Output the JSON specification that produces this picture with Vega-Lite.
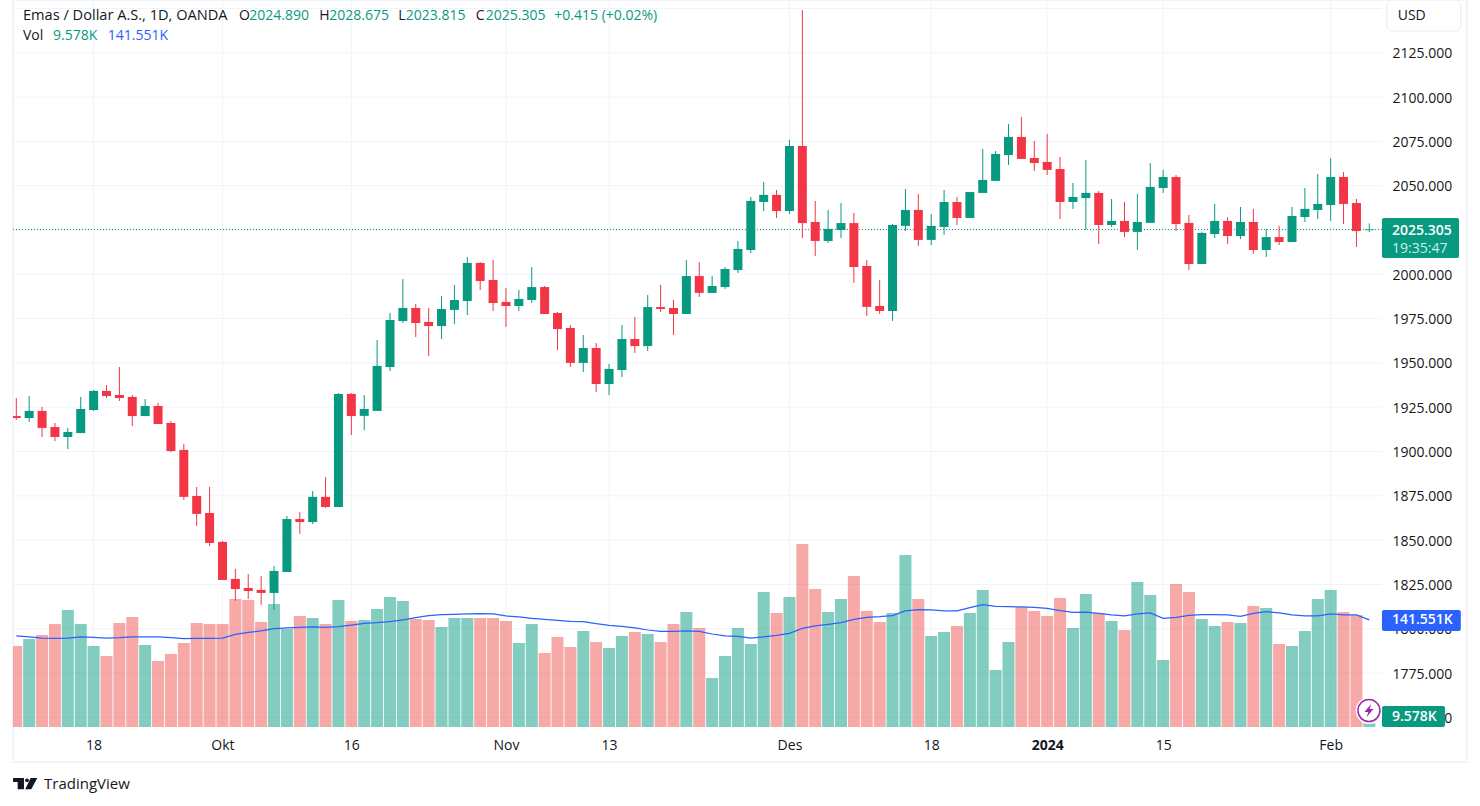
{"$schema":"https://vega.github.io/schema/vega-lite/v6.json","width":1454,"height":762,"autosize":"none","padding":{"left":13,"top":0,"right":13,"bottom":44},"background":"#ffffff","view":{"stroke":"#f0f3fa","strokeWidth":2},"config":{"font":"Open Sans"},
"datasets":{
"hgrid":[{"price":2150},{"price":2125},{"price":2100},{"price":2075},{"price":2050},{"price":2025},{"price":2000},{"price":1975},{"price":1950},{"price":1925},{"price":1900},{"price":1875},{"price":1850},{"price":1825},{"price":1800},{"price":1775},{"price":1750}],
"vgrid":[{"i":6},{"i":16},{"i":26},{"i":38},{"i":46},{"i":60},{"i":71},{"i":80},{"i":89},{"i":102}],
"last":[{"price":2025.305}],
"bars":[
{"i":0,"d":"2023-09-08","o":1920.0,"h":1930.2,"l":1917.8,"c":1918.9,"v":107.2,"ma":120.4,"dir":"down"},
{"i":1,"d":"2023-09-11","o":1918.9,"h":1931.3,"l":1916.7,"c":1922.9,"v":116.4,"ma":119.1,"dir":"up"},
{"i":2,"d":"2023-09-12","o":1922.9,"h":1925.1,"l":1908.2,"c":1913.3,"v":121.7,"ma":117.7,"dir":"down"},
{"i":3,"d":"2023-09-13","o":1913.8,"h":1916.1,"l":1905.9,"c":1908.2,"v":136.3,"ma":117.3,"dir":"down"},
{"i":4,"d":"2023-09-14","o":1908.2,"h":1913.3,"l":1901.4,"c":1911.0,"v":154.8,"ma":117.7,"dir":"up"},
{"i":5,"d":"2023-09-15","o":1910.4,"h":1930.8,"l":1910.4,"c":1924.0,"v":136.3,"ma":119.1,"dir":"up"},
{"i":6,"d":"2023-09-18","o":1923.4,"h":1934.7,"l":1922.9,"c":1934.2,"v":107.2,"ma":118.6,"dir":"up"},
{"i":7,"d":"2023-09-19","o":1934.2,"h":1937.5,"l":1930.2,"c":1931.3,"v":93.9,"ma":117.7,"dir":"down"},
{"i":8,"d":"2023-09-20","o":1931.9,"h":1947.7,"l":1928.5,"c":1930.2,"v":137.6,"ma":118.2,"dir":"down"},
{"i":9,"d":"2023-09-21","o":1930.8,"h":1931.9,"l":1914.4,"c":1920.0,"v":145.5,"ma":119.1,"dir":"down"},
{"i":10,"d":"2023-09-22","o":1920.0,"h":1929.6,"l":1920.0,"c":1925.7,"v":108.5,"ma":119.1,"dir":"up"},
{"i":11,"d":"2023-09-25","o":1925.7,"h":1927.4,"l":1915.5,"c":1915.5,"v":87.3,"ma":119.1,"dir":"down"},
{"i":12,"d":"2023-09-26","o":1916.1,"h":1917.2,"l":1899.7,"c":1900.3,"v":96.6,"ma":118.2,"dir":"down"},
{"i":13,"d":"2023-09-27","o":1900.9,"h":1904.3,"l":1872.7,"c":1874.4,"v":111.1,"ma":116.9,"dir":"down"},
{"i":14,"d":"2023-09-28","o":1874.9,"h":1880.0,"l":1858.0,"c":1864.8,"v":137.6,"ma":117.3,"dir":"down"},
{"i":15,"d":"2023-09-29","o":1865.3,"h":1880.0,"l":1846.7,"c":1848.4,"v":136.3,"ma":117.3,"dir":"down"},
{"i":16,"d":"2023-10-02","o":1849.0,"h":1849.5,"l":1827.5,"c":1827.5,"v":136.3,"ma":117.7,"dir":"down"},
{"i":17,"d":"2023-10-03","o":1828.1,"h":1833.7,"l":1815.7,"c":1822.4,"v":169.3,"ma":122.6,"dir":"down"},
{"i":18,"d":"2023-10-04","o":1823.0,"h":1830.9,"l":1816.8,"c":1821.3,"v":168.0,"ma":125.2,"dir":"down"},
{"i":19,"d":"2023-10-05","o":1821.9,"h":1829.8,"l":1813.4,"c":1820.2,"v":138.9,"ma":127.0,"dir":"down"},
{"i":20,"d":"2023-10-06","o":1820.2,"h":1835.4,"l":1810.6,"c":1832.6,"v":162.7,"ma":130.1,"dir":"up"},
{"i":21,"d":"2023-10-09","o":1832.0,"h":1863.6,"l":1832.0,"c":1861.9,"v":129.7,"ma":131.0,"dir":"up"},
{"i":22,"d":"2023-10-10","o":1861.9,"h":1865.9,"l":1853.5,"c":1860.2,"v":146.9,"ma":131.9,"dir":"down"},
{"i":23,"d":"2023-10-11","o":1860.2,"h":1877.7,"l":1859.1,"c":1874.4,"v":144.2,"ma":132.3,"dir":"up"},
{"i":24,"d":"2023-10-12","o":1874.4,"h":1885.6,"l":1868.2,"c":1868.7,"v":136.3,"ma":131.9,"dir":"down"},
{"i":25,"d":"2023-10-13","o":1868.7,"h":1933.0,"l":1868.7,"c":1932.5,"v":168.0,"ma":132.7,"dir":"up"},
{"i":26,"d":"2023-10-16","o":1932.5,"h":1933.0,"l":1909.3,"c":1920.0,"v":140.2,"ma":134.9,"dir":"down"},
{"i":27,"d":"2023-10-17","o":1920.1,"h":1931.9,"l":1912.0,"c":1924.0,"v":141.6,"ma":137.2,"dir":"up"},
{"i":28,"d":"2023-10-18","o":1922.9,"h":1962.9,"l":1922.9,"c":1948.3,"v":156.1,"ma":138.0,"dir":"up"},
{"i":29,"d":"2023-10-19","o":1947.7,"h":1978.2,"l":1945.4,"c":1974.2,"v":172.0,"ma":139.4,"dir":"up"},
{"i":30,"d":"2023-10-20","o":1973.6,"h":1997.3,"l":1972.5,"c":1981.0,"v":166.7,"ma":141.6,"dir":"up"},
{"i":31,"d":"2023-10-23","o":1981.0,"h":1983.2,"l":1964.6,"c":1972.5,"v":142.9,"ma":144.6,"dir":"down"},
{"i":32,"d":"2023-10-24","o":1973.1,"h":1981.0,"l":1953.9,"c":1970.8,"v":141.6,"ma":147.3,"dir":"down"},
{"i":33,"d":"2023-10-25","o":1970.8,"h":1987.8,"l":1963.5,"c":1980.4,"v":132.3,"ma":148.6,"dir":"up"},
{"i":34,"d":"2023-10-26","o":1979.9,"h":1994.0,"l":1972.0,"c":1985.5,"v":144.2,"ma":149.1,"dir":"up"},
{"i":35,"d":"2023-10-27","o":1984.9,"h":2009.8,"l":1977.0,"c":2006.4,"v":144.2,"ma":149.5,"dir":"up"},
{"i":36,"d":"2023-10-30","o":2006.4,"h":2006.9,"l":1991.1,"c":1996.2,"v":144.2,"ma":149.9,"dir":"down"},
{"i":37,"d":"2023-10-31","o":1996.8,"h":2008.1,"l":1979.3,"c":1983.8,"v":144.2,"ma":149.5,"dir":"down"},
{"i":38,"d":"2023-11-01","o":1984.4,"h":1992.3,"l":1970.3,"c":1982.1,"v":140.2,"ma":146.9,"dir":"down"},
{"i":39,"d":"2023-11-02","o":1982.1,"h":1991.1,"l":1979.3,"c":1986.1,"v":111.1,"ma":145.5,"dir":"up"},
{"i":40,"d":"2023-11-03","o":1985.5,"h":2004.1,"l":1983.8,"c":1992.8,"v":136.3,"ma":143.8,"dir":"up"},
{"i":41,"d":"2023-11-06","o":1992.8,"h":1993.4,"l":1977.6,"c":1977.6,"v":97.9,"ma":142.4,"dir":"down"},
{"i":42,"d":"2023-11-07","o":1978.2,"h":1978.7,"l":1957.3,"c":1969.1,"v":119.1,"ma":141.1,"dir":"down"},
{"i":43,"d":"2023-11-08","o":1969.7,"h":1971.4,"l":1947.7,"c":1950.0,"v":105.8,"ma":139.8,"dir":"down"},
{"i":44,"d":"2023-11-09","o":1950.0,"h":1965.7,"l":1944.9,"c":1958.4,"v":127.0,"ma":139.4,"dir":"up"},
{"i":45,"d":"2023-11-10","o":1958.4,"h":1961.2,"l":1933.6,"c":1938.1,"v":112.5,"ma":136.7,"dir":"down"},
{"i":46,"d":"2023-11-13","o":1938.1,"h":1949.4,"l":1931.9,"c":1946.6,"v":104.5,"ma":134.5,"dir":"up"},
{"i":47,"d":"2023-11-14","o":1946.0,"h":1971.4,"l":1942.0,"c":1963.5,"v":120.4,"ma":133.2,"dir":"up"},
{"i":48,"d":"2023-11-15","o":1963.5,"h":1975.9,"l":1955.6,"c":1959.5,"v":125.7,"ma":131.0,"dir":"down"},
{"i":49,"d":"2023-11-16","o":1959.5,"h":1988.3,"l":1956.7,"c":1981.5,"v":123.0,"ma":128.3,"dir":"up"},
{"i":50,"d":"2023-11-17","o":1981.5,"h":1994.0,"l":1978.7,"c":1980.4,"v":112.5,"ma":126.6,"dir":"down"},
{"i":51,"d":"2023-11-20","o":1981.0,"h":1985.5,"l":1965.7,"c":1977.6,"v":136.3,"ma":126.6,"dir":"down"},
{"i":52,"d":"2023-11-21","o":1977.6,"h":2008.1,"l":1977.6,"c":1999.0,"v":152.1,"ma":127.0,"dir":"up"},
{"i":53,"d":"2023-11-22","o":1999.0,"h":2006.9,"l":1987.2,"c":1989.5,"v":131.0,"ma":126.6,"dir":"down"},
{"i":54,"d":"2023-11-23","o":1989.5,"h":1999.0,"l":1989.5,"c":1993.4,"v":64.8,"ma":123.0,"dir":"up"},
{"i":55,"d":"2023-11-24","o":1992.8,"h":2004.1,"l":1991.7,"c":2003.0,"v":93.9,"ma":120.4,"dir":"up"},
{"i":56,"d":"2023-11-27","o":2002.4,"h":2018.8,"l":2000.7,"c":2014.3,"v":131.0,"ma":120.0,"dir":"up"},
{"i":57,"d":"2023-11-28","o":2013.7,"h":2043.6,"l":2012.0,"c":2041.4,"v":109.8,"ma":117.7,"dir":"up"},
{"i":58,"d":"2023-11-29","o":2040.8,"h":2052.1,"l":2035.7,"c":2044.8,"v":178.6,"ma":119.1,"dir":"up"},
{"i":59,"d":"2023-11-30","o":2044.8,"h":2047.6,"l":2031.8,"c":2035.7,"v":150.8,"ma":121.3,"dir":"down"},
{"i":60,"d":"2023-12-01","o":2035.7,"h":2075.8,"l":2034.0,"c":2072.4,"v":172.0,"ma":123.9,"dir":"up"},
{"i":61,"d":"2023-12-04","o":2072.4,"h":2149.1,"l":2020.5,"c":2028.9,"v":242.1,"ma":130.5,"dir":"down"},
{"i":62,"d":"2023-12-05","o":2029.5,"h":2041.4,"l":2010.3,"c":2018.8,"v":182.6,"ma":133.6,"dir":"down"},
{"i":63,"d":"2023-12-06","o":2018.8,"h":2036.3,"l":2017.7,"c":2025.6,"v":152.1,"ma":135.8,"dir":"up"},
{"i":64,"d":"2023-12-07","o":2025.0,"h":2040.2,"l":2020.5,"c":2028.9,"v":169.3,"ma":138.0,"dir":"up"},
{"i":65,"d":"2023-12-08","o":2028.9,"h":2034.6,"l":1995.1,"c":2004.1,"v":199.8,"ma":142.4,"dir":"down"},
{"i":66,"d":"2023-12-11","o":2004.7,"h":2008.1,"l":1976.5,"c":1981.6,"v":153.5,"ma":145.1,"dir":"down"},
{"i":67,"d":"2023-12-12","o":1982.1,"h":1996.8,"l":1977.6,"c":1979.3,"v":138.9,"ma":146.0,"dir":"down"},
{"i":68,"d":"2023-12-13","o":1979.3,"h":2028.4,"l":1973.7,"c":2027.8,"v":150.8,"ma":147.3,"dir":"up"},
{"i":69,"d":"2023-12-14","o":2027.3,"h":2048.1,"l":2024.4,"c":2036.3,"v":227.6,"ma":153.5,"dir":"up"},
{"i":70,"d":"2023-12-15","o":2036.3,"h":2045.3,"l":2016.0,"c":2019.4,"v":169.3,"ma":155.2,"dir":"down"},
{"i":71,"d":"2023-12-18","o":2019.4,"h":2034.0,"l":2016.5,"c":2027.3,"v":120.4,"ma":154.8,"dir":"up"},
{"i":72,"d":"2023-12-19","o":2026.7,"h":2047.6,"l":2022.2,"c":2040.8,"v":125.7,"ma":153.5,"dir":"up"},
{"i":73,"d":"2023-12-20","o":2040.8,"h":2043.6,"l":2027.8,"c":2031.8,"v":133.6,"ma":153.5,"dir":"down"},
{"i":74,"d":"2023-12-21","o":2031.8,"h":2046.4,"l":2031.8,"c":2046.4,"v":150.8,"ma":157.9,"dir":"up"},
{"i":75,"d":"2023-12-22","o":2045.9,"h":2070.7,"l":2045.9,"c":2053.2,"v":181.3,"ma":161.8,"dir":"up"},
{"i":76,"d":"2023-12-26","o":2052.7,"h":2069.6,"l":2052.7,"c":2067.9,"v":75.4,"ma":159.6,"dir":"up"},
{"i":77,"d":"2023-12-27","o":2067.3,"h":2084.8,"l":2061.7,"c":2077.5,"v":112.5,"ma":159.2,"dir":"up"},
{"i":78,"d":"2023-12-28","o":2077.5,"h":2088.8,"l":2065.1,"c":2065.1,"v":158.8,"ma":158.8,"dir":"down"},
{"i":79,"d":"2023-12-29","o":2065.6,"h":2075.2,"l":2058.3,"c":2062.8,"v":153.5,"ma":158.3,"dir":"down"},
{"i":80,"d":"2024-01-02","o":2063.4,"h":2079.2,"l":2056.0,"c":2058.9,"v":146.9,"ma":157.0,"dir":"down"},
{"i":81,"d":"2024-01-03","o":2059.4,"h":2066.2,"l":2031.2,"c":2040.8,"v":170.7,"ma":153.9,"dir":"down"},
{"i":82,"d":"2024-01-04","o":2040.8,"h":2051.5,"l":2036.9,"c":2043.6,"v":131.0,"ma":151.7,"dir":"up"},
{"i":83,"d":"2024-01-05","o":2043.0,"h":2064.5,"l":2025.0,"c":2045.9,"v":176.0,"ma":152.1,"dir":"up"},
{"i":84,"d":"2024-01-08","o":2045.9,"h":2047.0,"l":2017.1,"c":2027.8,"v":150.8,"ma":150.4,"dir":"down"},
{"i":85,"d":"2024-01-09","o":2027.8,"h":2042.5,"l":2026.7,"c":2030.1,"v":140.2,"ma":148.2,"dir":"up"},
{"i":86,"d":"2024-01-10","o":2030.1,"h":2040.8,"l":2021.0,"c":2023.9,"v":128.3,"ma":146.9,"dir":"down"},
{"i":87,"d":"2024-01-11","o":2023.9,"h":2045.3,"l":2013.7,"c":2029.5,"v":191.8,"ma":149.5,"dir":"up"},
{"i":88,"d":"2024-01-12","o":2029.0,"h":2062.8,"l":2029.0,"c":2049.3,"v":174.6,"ma":150.8,"dir":"up"},
{"i":89,"d":"2024-01-15","o":2048.7,"h":2058.9,"l":2045.9,"c":2054.9,"v":88.6,"ma":143.8,"dir":"up"},
{"i":90,"d":"2024-01-16","o":2054.9,"h":2056.0,"l":2024.4,"c":2028.4,"v":189.2,"ma":145.1,"dir":"down"},
{"i":91,"d":"2024-01-17","o":2029.0,"h":2033.5,"l":2002.4,"c":2005.8,"v":178.6,"ma":147.7,"dir":"down"},
{"i":92,"d":"2024-01-18","o":2005.8,"h":2023.9,"l":2005.8,"c":2023.3,"v":142.9,"ma":148.6,"dir":"up"},
{"i":93,"d":"2024-01-19","o":2022.7,"h":2039.7,"l":2020.5,"c":2030.1,"v":133.6,"ma":148.6,"dir":"up"},
{"i":94,"d":"2024-01-22","o":2030.1,"h":2032.3,"l":2017.1,"c":2021.6,"v":138.9,"ma":148.2,"dir":"down"},
{"i":95,"d":"2024-01-23","o":2021.6,"h":2038.0,"l":2019.9,"c":2029.5,"v":137.6,"ma":146.4,"dir":"up"},
{"i":96,"d":"2024-01-24","o":2029.5,"h":2036.9,"l":2011.5,"c":2013.7,"v":160.1,"ma":150.4,"dir":"down"},
{"i":97,"d":"2024-01-25","o":2013.7,"h":2025.6,"l":2009.8,"c":2021.0,"v":157.4,"ma":152.6,"dir":"up"},
{"i":98,"d":"2024-01-26","o":2021.0,"h":2027.3,"l":2016.5,"c":2018.2,"v":109.8,"ma":150.8,"dir":"down"},
{"i":99,"d":"2024-01-29","o":2018.2,"h":2038.0,"l":2018.2,"c":2032.9,"v":107.2,"ma":148.2,"dir":"up"},
{"i":100,"d":"2024-01-30","o":2032.3,"h":2048.7,"l":2029.5,"c":2036.9,"v":127.0,"ma":146.9,"dir":"up"},
{"i":101,"d":"2024-01-31","o":2036.3,"h":2056.6,"l":2031.2,"c":2039.7,"v":169.3,"ma":146.9,"dir":"up"},
{"i":102,"d":"2024-02-01","o":2039.1,"h":2065.6,"l":2030.1,"c":2054.9,"v":181.3,"ma":149.5,"dir":"up"},
{"i":103,"d":"2024-02-02","o":2054.9,"h":2057.7,"l":2028.4,"c":2039.7,"v":152.1,"ma":148.2,"dir":"down"},
{"i":104,"d":"2024-02-05","o":2040.2,"h":2042.5,"l":2015.4,"c":2024.4,"v":148.2,"ma":148.2,"dir":"down"},
{"i":105,"d":"2024-02-06","o":2024.89,"h":2028.675,"l":2023.815,"c":2025.305,"v":4.9,"ma":141.6,"dir":"up"}
],
"headline":[{"label":"Emas / Dollar A.S., 1D, OANDA","i":0.52,"price":2145.9}],
"notes":[
{"label":"O","i":17.28,"price":2145.9,"kind":"ink"},
{"label":"2024.890","i":18.08,"price":2145.9,"kind":"up"},
{"label":"H","i":23.51,"price":2145.9,"kind":"ink"},
{"label":"2028.675","i":24.29,"price":2145.9,"kind":"up"},
{"label":"L","i":29.64,"price":2145.9,"kind":"ink"},
{"label":"2023.815","i":30.22,"price":2145.9,"kind":"up"},
{"label":"C","i":35.65,"price":2145.9,"kind":"ink"},
{"label":"2025.305","i":36.43,"price":2145.9,"kind":"up"},
{"label":"+0.415 (+0.02%)","i":41.75,"price":2145.9,"kind":"up"},
{"label":"Vol","i":0.52,"price":2134.6,"kind":"ink"},
{"label":"9.578K","i":2.85,"price":2134.6,"kind":"up"},
{"label":"141.551K","i":7.1,"price":2134.6,"kind":"ma"},
{"label":"USD","i":107.2,"price":2145.9,"kind":"ink"}
],
"brand":[{"label":"TradingView","i":2.15,"price":1712.4}],
"logo":[{"i":0.69,"price":1712.6}],
"bolt":[{"i":104.97,"price":1753.8}],
"usd":[{"x0":106.37,"x1":112.1,"p0":2154.77,"p1":2137.3}],
"tags":[
{"x0":105.98,"x1":111.96,"p0":2031.8,"p1":2009.2,"kind":"up"},
{"x0":105.98,"x1":112.1,"p0":1810.6,"p1":1798.7,"kind":"ma"},
{"x0":105.98,"x1":110.87,"p0":1756.4,"p1":1744.5,"kind":"up"}
],
"tagtext":[
{"label":"2025.305","i":106.76,"price":2024.6},
{"label":"141.551K","i":106.76,"price":1804.7},
{"label":"9.578K","i":106.76,"price":1750.0}
],
"clock":[{"label":"19:35:47","i":106.76,"price":2014.4}]
},
"layer":[
{"layer":[
{"data":{"name":"hgrid"},"mark":{"type":"rule","stroke":"#f0f3fa","strokeWidth":1},"encoding":{
"y":{"field":"price","type":"quantitative","scale":{"domain":[1724.8,2154.77],"nice":false,"zero":false},"axis":{"orient":"right","offset":-85,"values":[1750,1775,1800,1825,1850,1875,1900,1925,1950,1975,2000,2050,2075,2100,2125],"format":".3f","title":null,"grid":false,"ticks":false,"domain":false,"labelPadding":10,"labelOffset":1,"labelFontSize":14,"labelColor":"#131722","labelFont":"Open Sans","labelOverlap":false,"labelBound":false,"labelFlush":false,"labelAlign":"left","labelBaseline":"middle"}},
"x":{"datum":-0.256,"type":"quantitative","scale":{"domain":[-0.256,112.58],"nice":false,"zero":false},"axis":{"orient":"bottom","offset":-35,"values":[6,16,26,38,46,60,71,80,89,102],"labelExpr":"({'6':'18','16':'Okt','26':'16','38':'Nov','46':'13','60':'Des','71':'18','80':'2024','89':'15','102':'Feb'})[datum.value]","title":null,"grid":false,"ticks":false,"domain":false,"labelPadding":11,"labelFontSize":14,"labelColor":"#131722","labelFont":"Open Sans","labelOverlap":false,"labelBound":false,"labelFlush":false,"labelFontWeight":{"condition":{"test":"datum.value === 80","value":"bold"},"value":"normal"}}},
"x2":{"datum":105.98}}},
{"data":{"name":"vgrid"},"mark":{"type":"rule","stroke":"#f0f3fa","strokeWidth":1},"encoding":{"x":{"field":"i","type":"quantitative","scale":{"domain":[-0.256,112.58],"nice":false,"zero":false}},"y":{"datum":2154.77,"scale":{"domain":[1724.8,2154.77],"nice":false,"zero":false}},"y2":{"datum":1744.5}}}
]},
{"data":{"name":"bars"},"layer":[
{"mark":{"type":"rect","width":12,"opacity":0.5,"clip":true},"encoding":{"x":{"field":"i","type":"quantitative","scale":{"domain":[-0.256,112.58],"nice":false,"zero":false},"axis":null},"y":{"field":"v","type":"quantitative","scale":{"domain":[-46.3,961.6],"nice":false,"zero":false},"axis":null},"y2":{"datum":0},"color":{"field":"dir","type":"nominal","scale":{"domain":["up","down"],"range":["#089981","#ef5350"]},"legend":null}}},
{"mark":{"type":"line","stroke":"#2962ff","strokeWidth":1.25,"interpolate":"linear"},"encoding":{"x":{"field":"i","type":"quantitative","scale":{"domain":[-0.256,112.58],"nice":false,"zero":false},"axis":null},"y":{"field":"ma","type":"quantitative","scale":{"domain":[-46.3,961.6],"nice":false,"zero":false},"axis":null}}}
]},
{"layer":[
{"data":{"name":"last"},"mark":{"type":"rule","stroke":"#089981","strokeWidth":1,"strokeDash":[1,2]},"encoding":{"y":{"field":"price","type":"quantitative","scale":{"domain":[1724.8,2154.77],"nice":false,"zero":false},"axis":null},"x":{"datum":-0.256,"type":"quantitative","scale":{"domain":[-0.256,112.58],"nice":false,"zero":false},"axis":null},"x2":{"datum":105.98}}},
{"data":{"name":"bars"},"mark":{"type":"rule","strokeWidth":1,"clip":true},"encoding":{"x":{"field":"i","type":"quantitative","scale":{"domain":[-0.256,112.58],"nice":false,"zero":false},"axis":null},"y":{"field":"l","type":"quantitative","scale":{"domain":[1724.8,2154.77],"nice":false,"zero":false},"axis":null},"y2":{"field":"h"},"color":{"field":"dir","type":"nominal","scale":{"domain":["up","down","ink","ma"],"range":["#089981","#f23645","#131722","#2962ff"]},"legend":null}}},
{"data":{"name":"bars"},"mark":{"type":"rect","width":9,"clip":true},"encoding":{"x":{"field":"i","type":"quantitative","scale":{"domain":[-0.256,112.58],"nice":false,"zero":false},"axis":null},"y":{"field":"o","type":"quantitative","scale":{"domain":[1724.8,2154.77],"nice":false,"zero":false},"axis":null},"y2":{"field":"c"},"color":{"field":"dir","type":"nominal","legend":null}}},
{"data":{"name":"usd"},"mark":{"type":"rect","cornerRadius":6,"fill":"#ffffff","stroke":"#e8eaf3","strokeWidth":1},"encoding":{"x":{"field":"x0","type":"quantitative","scale":{"domain":[-0.256,112.58],"nice":false,"zero":false},"axis":null},"x2":{"field":"x1"},"y":{"field":"p0","type":"quantitative","scale":{"domain":[1724.8,2154.77],"nice":false,"zero":false},"axis":null},"y2":{"field":"p1"}}},
{"data":{"name":"tags"},"mark":{"type":"rect","cornerRadius":2},"encoding":{"x":{"field":"x0","type":"quantitative","scale":{"domain":[-0.256,112.58],"nice":false,"zero":false},"axis":null},"x2":{"field":"x1"},"y":{"field":"p0","type":"quantitative","scale":{"domain":[1724.8,2154.77],"nice":false,"zero":false},"axis":null},"y2":{"field":"p1"},"color":{"field":"kind","type":"nominal","legend":null}}},
{"data":{"name":"tagtext"},"mark":{"type":"text","align":"left","baseline":"middle","fontSize":14,"fontWeight":600,"fill":"#ffffff","font":"Open Sans"},"encoding":{"x":{"field":"i","type":"quantitative","scale":{"domain":[-0.256,112.58],"nice":false,"zero":false},"axis":null},"y":{"field":"price","type":"quantitative","scale":{"domain":[1724.8,2154.77],"nice":false,"zero":false},"axis":null},"text":{"field":"label"}}},
{"data":{"name":"clock"},"mark":{"type":"text","align":"left","baseline":"middle","fontSize":14,"fill":"#cfeee8","font":"Open Sans"},"encoding":{"x":{"field":"i","type":"quantitative","scale":{"domain":[-0.256,112.58],"nice":false,"zero":false},"axis":null},"y":{"field":"price","type":"quantitative","scale":{"domain":[1724.8,2154.77],"nice":false,"zero":false},"axis":null},"text":{"field":"label"}}},
{"data":{"name":"headline"},"mark":{"type":"text","align":"left","baseline":"middle","fontSize":14.6,"fill":"#131722","font":"Open Sans"},"encoding":{"x":{"field":"i","type":"quantitative","scale":{"domain":[-0.256,112.58],"nice":false,"zero":false},"axis":null},"y":{"field":"price","type":"quantitative","scale":{"domain":[1724.8,2154.77],"nice":false,"zero":false},"axis":null},"text":{"field":"label"}}},
{"data":{"name":"notes"},"mark":{"type":"text","align":"left","baseline":"middle","fontSize":14,"font":"Open Sans"},"encoding":{"x":{"field":"i","type":"quantitative","scale":{"domain":[-0.256,112.58],"nice":false,"zero":false},"axis":null},"y":{"field":"price","type":"quantitative","scale":{"domain":[1724.8,2154.77],"nice":false,"zero":false},"axis":null},"text":{"field":"label"},"color":{"field":"kind","type":"nominal","legend":null}}},
{"data":{"name":"brand"},"mark":{"type":"text","align":"left","baseline":"middle","fontSize":15,"fill":"#131722","font":"Open Sans"},"encoding":{"x":{"field":"i","type":"quantitative","scale":{"domain":[-0.256,112.58],"nice":false,"zero":false},"axis":null},"y":{"field":"price","type":"quantitative","scale":{"domain":[1724.8,2154.77],"nice":false,"zero":false},"axis":null},"text":{"field":"label"}}},
{"data":{"name":"logo"},"mark":{"type":"point","filled":true,"fill":"#131722","opacity":1,"size":590,"strokeWidth":0,"shape":"M-1 -.47 L-.1 -.47 L-.1 .47 L-.62 .47 L-.62 -.14 L-1 -.14 Z M-.01 -.27 A.16 .16 0 1 0 .31 -.27 A.16 .16 0 1 0 -.01 -.27 Z M.45 -.47 L1 -.47 L.5 .47 L0 .47 Z"},"encoding":{"x":{"field":"i","type":"quantitative","scale":{"domain":[-0.256,112.58],"nice":false,"zero":false},"axis":null},"y":{"field":"price","type":"quantitative","scale":{"domain":[1724.8,2154.77],"nice":false,"zero":false},"axis":null}}},
{"data":{"name":"bolt"},"mark":{"type":"point","filled":true,"fill":"#ffffff","opacity":1,"size":700,"shape":"circle","strokeWidth":0},"encoding":{"x":{"field":"i","type":"quantitative","scale":{"domain":[-0.256,112.58],"nice":false,"zero":false},"axis":null},"y":{"field":"price","type":"quantitative","scale":{"domain":[1724.8,2154.77],"nice":false,"zero":false},"axis":null}}},
{"data":{"name":"bolt"},"mark":{"type":"point","filled":false,"stroke":"#9c27b0","opacity":1,"size":484,"shape":"circle","strokeWidth":1.5},"encoding":{"x":{"field":"i","type":"quantitative","scale":{"domain":[-0.256,112.58],"nice":false,"zero":false},"axis":null},"y":{"field":"price","type":"quantitative","scale":{"domain":[1724.8,2154.77],"nice":false,"zero":false},"axis":null}}},
{"data":{"name":"bolt"},"mark":{"type":"point","filled":true,"fill":"#9c27b0","opacity":1,"size":169,"strokeWidth":0,"shape":"M.35 -1 L-.7 .2 L-.1 .2 L-.35 1 L.7 -.25 L.1 -.25 Z"},"encoding":{"x":{"field":"i","type":"quantitative","scale":{"domain":[-0.256,112.58],"nice":false,"zero":false},"axis":null},"y":{"field":"price","type":"quantitative","scale":{"domain":[1724.8,2154.77],"nice":false,"zero":false},"axis":null}}}
]}
],
"resolve":{"scale":{"y":"independent","color":"independent"},"axis":{"x":"independent","y":"independent"}}
}
